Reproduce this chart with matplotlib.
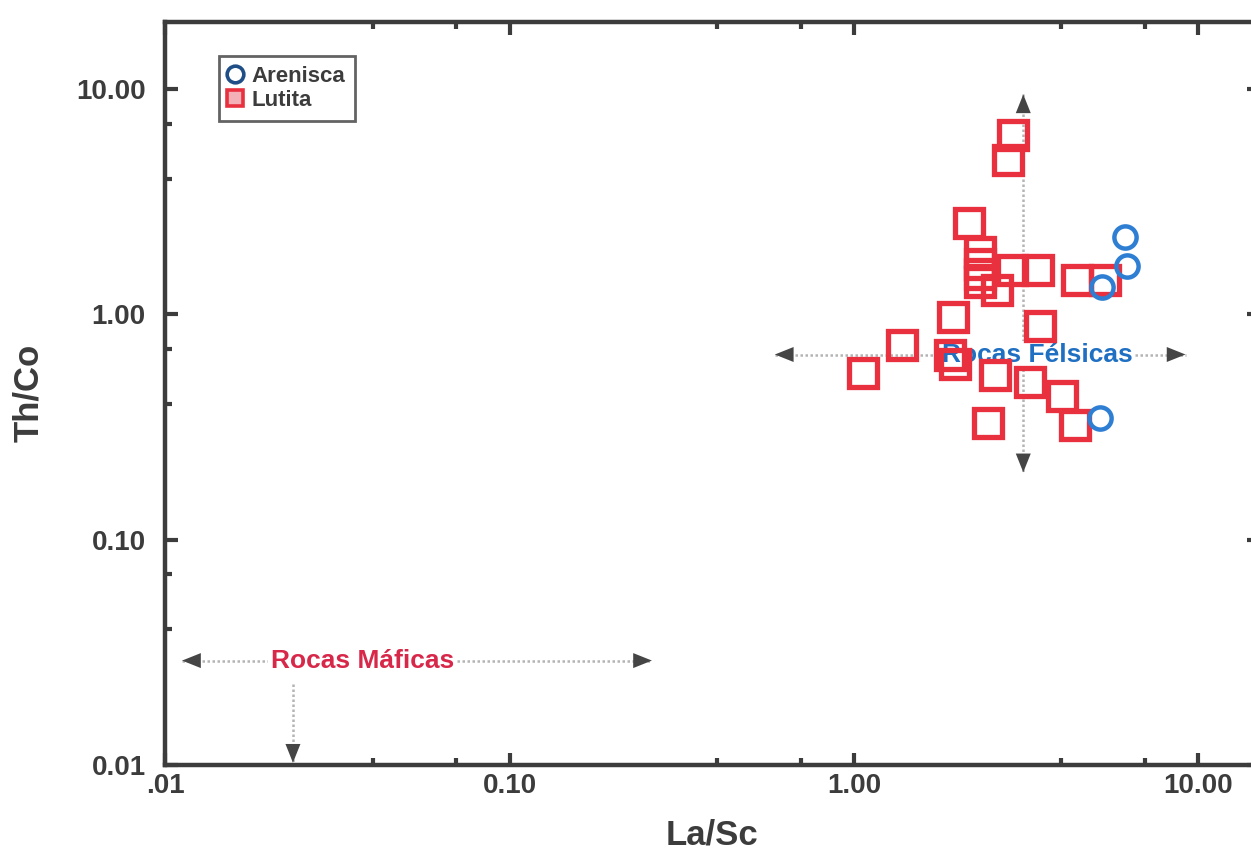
import numpy as np
import matplotlib
matplotlib.use("Agg")
import matplotlib.pyplot as plt
from matplotlib.lines import Line2D
from matplotlib.ticker import FixedLocator, FixedFormatter

plt.rcParams['font.family'] = ['Liberation Sans', 'DejaVu Sans']

# La/Sc vs Th/Co ratios
lutita_lasc = [2.90, 2.80, 2.16, 2.32, 2.32, 2.32, 2.32, 2.60, 2.88, 3.43, 4.45, 5.37,
               1.94, 3.47, 1.38, 1.06, 1.90, 1.97, 2.57, 3.25, 4.02, 2.45, 4.39]
lutita_thco = [6.25, 4.84, 2.54, 1.89, 1.67, 1.51, 1.39, 1.29, 1.58, 1.58, 1.42, 1.42,
               0.97, 0.89, 0.735, 0.552, 0.664, 0.60, 0.536, 0.499, 0.436, 0.331, 0.324]

arenisca_lasc = [6.13, 6.22, 5.26, 5.19]
arenisca_thco = [2.20, 1.65, 1.32, 0.348]

x_ticks = [0.01, 0.1, 1, 10]
x_ticklabels = ['.01', '0.10', '1.00', '10.00']
y_ticks = [0.01, 0.1, 1, 10]
y_ticklabels = ['0.01', '0.10', '1.00', '10.00']

# field arrows: (x0, x1, y) horizontal and (x, y0, y1) vertical
felsic_h = (0.589, 9.17, 0.664)
felsic_v = (3.10, 9.5, 0.199)
felsic_label_x = 3.40
mafic_h = (0.0112, 0.259, 0.029)
mafic_v = (0.0235, 0.0229, 0.0102)
mafic_label_x = 0.0374

red = '#e8303f'
blue = '#2e7fd3'
dark = '#3c3c3c'
head = '#454545'
shaft = '#b4b4b4'

fig = plt.figure(figsize=(12.51, 8.65), dpi=100)
ax = fig.add_axes([0.132, 0.116, 0.8745, 0.859])
ax.set_xscale('log')
ax.set_yscale('log')
ax.set_xlim(0.01, 15)
ax.set_ylim(0.01, 20)


def arrow_head(x, y, dx, dy):
    ax.annotate('', xy=(x, y), xytext=(dx, dy), textcoords='offset points',
                arrowprops=dict(arrowstyle='-|>,head_length=0.75,head_width=0.3',
                                color=head, lw=0, mutation_scale=18,
                                shrinkA=0, shrinkB=0), zorder=2)


# Rocas Félsicas cross
x0, x1, y = felsic_h
ax.plot([x0, x1], [y, y], ls=(0, (1, 1)), color=shaft, lw=1.8, zorder=1)
arrow_head(x0, y, 1, 0)
arrow_head(x1, y, -1, 0)
x, y0, y1 = felsic_v
ax.plot([x, x], [y0, y1], ls=(0, (1, 1)), color=shaft, lw=1.8, zorder=1)
arrow_head(x, y0, 0, -1)
arrow_head(x, y1, 0, 1)

# Rocas Máficas
x0, x1, y = mafic_h
ax.plot([x0, x1], [y, y], ls=(0, (1, 1)), color=shaft, lw=1.8, zorder=1)
arrow_head(x0, y, 1, 0)
arrow_head(x1, y, -1, 0)
x, y0, y1 = mafic_v
ax.plot([x, x], [y0, y1], ls=(0, (1, 1)), color=shaft, lw=1.8, zorder=1)
arrow_head(x, y1, 0, 1)

ax.text(felsic_label_x, felsic_h[2], 'Rocas Félsicas',
        color='#1f6fc2', fontsize=19, fontweight='bold', ha='center', va='center',
        bbox=dict(facecolor='white', edgecolor='none', pad=1), zorder=2)
ax.text(mafic_label_x, mafic_h[2], 'Rocas Máficas', color='#d8284a', fontsize=19,
        fontweight='bold', ha='center', va='center',
        bbox=dict(facecolor='white', edgecolor='none', pad=2), zorder=2)

ax.plot(lutita_lasc, lutita_thco, ls='none', marker='s', ms=19.5, mfc='none',
        mec=red, mew=3.8, zorder=3)
ax.plot(arenisca_lasc, arenisca_thco, ls='none', marker='o', ms=16, mfc='none',
        mec=blue, mew=3.2, zorder=3)

# axes styling
for s in ax.spines.values():
    s.set_linewidth(3.2)
    s.set_color(dark)

ax.xaxis.set_major_locator(FixedLocator(x_ticks))
ax.xaxis.set_major_formatter(FixedFormatter(x_ticklabels))
ax.yaxis.set_major_locator(FixedLocator(y_ticks))
ax.yaxis.set_major_formatter(FixedFormatter(y_ticklabels))
minor = [m * 10.0 ** k for k in range(-3, 2) for m in (4, 7)]
ax.xaxis.set_minor_locator(FixedLocator(minor))
ax.yaxis.set_minor_locator(FixedLocator(minor))
ax.xaxis.set_minor_formatter(FixedFormatter([]))
ax.yaxis.set_minor_formatter(FixedFormatter([]))

ax.tick_params(which='both', direction='in', top=True, right=True, color=dark)
ax.tick_params(which='major', length=9, width=3)
ax.tick_params(which='minor', length=5, width=3)
ax.tick_params(axis='both', which='major', labelsize=20, labelcolor=dark)
ax.tick_params(axis='x', pad=6)
ax.tick_params(axis='y', pad=14)
for lbl in ax.get_xticklabels() + ax.get_yticklabels():
    lbl.set_fontweight('bold')

ax.set_xlabel('La/Sc', fontsize=25, fontweight='bold', color=dark, labelpad=14)
ax.set_ylabel('Th/Co', fontsize=25, fontweight='bold', color=dark, labelpad=22)

handles = [
    Line2D([], [], ls='none', marker='o', ms=12, mfc='none', mec='#1f4f86', mew=2.6),
    Line2D([], [], ls='none', marker='s', ms=11, mfc='#f3b0b6', mec=red, mew=2.6),
]
leg = ax.legend(handles, ['Arenisca', 'Lutita'], loc='upper left',
                bbox_to_anchor=(0.045, 0.96), frameon=True, fancybox=False,
                handlelength=0.6, handletextpad=0.4, borderpad=0.45,
                labelspacing=0.15, borderaxespad=0.2,
                prop={'weight': 'bold', 'size': 16})
leg.get_frame().set_edgecolor(dark)
leg.get_frame().set_linewidth(2)
for t in leg.get_texts():
    t.set_color(dark)

fig.savefig('out.png', dpi=100)
